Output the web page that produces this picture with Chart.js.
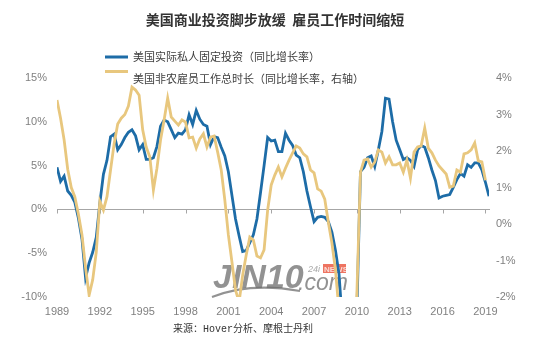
<!DOCTYPE html>
<html>
<head>
<meta charset="utf-8">
<script src="https://cdn.jsdelivr.net/npm/chart.js@4.4.1/dist/chart.umd.min.js"></script>
<style>
  html, body { margin: 0; padding: 0; background: #ffffff; }
  #wrap { width: 550px; height: 337px; position: relative; }
</style>
</head>
<body>
<div id="wrap"><canvas id="chart"></canvas></div>
<script>
// Quarterly series, first quarter = 1989 Q1
const startYear = 1989;

// US real private fixed investment, YoY % (left axis)
const investValues = [
  4.8, 3.2, 3.8, 2.1, 1.6, 0.8, -1.0, -3.4, -7.8, -6.1,
  -4.9, -3.2, 0.7, 4.0, 5.6, 8.3, 8.6, 6.8, 7.4, 8.2,
  8.8, 9.1, 8.4, 6.8, 7.4, 5.7, 5.7, 5.9, 7.2, 9.5,
  10.2, 10.0, 9.1, 8.2, 8.7, 8.6, 9.1, 10.8, 9.7, 11.3,
  10.3, 9.7, 9.5, 7.4, 8.3, 8.2, 7.1, 6.1, 4.3, 1.6,
  -1.1, -3.0, -4.8, -4.7, -3.8, -2.9, -1.1, 1.9, 5.0, 8.2,
  7.8, 7.9, 6.6, 6.6, 8.7, 7.9, 7.3, 6.2, 5.9, 4.3,
  2.1, 0.3, -1.4, -0.9, -0.8, -0.9, -1.4, -2.6, -4.7, -7.4,
  -13.4, -19.0, -21.0, -18.0, -11.5, 4.3, 4.8, 5.9, 6.1, 4.9,
  6.8, 8.9, 12.7, 12.6, 10.0, 7.9, 6.8, 5.7, 5.9, 5.6,
  4.9, 6.8, 7.3, 7.1, 5.9, 4.5, 3.3, 1.3, 1.5, 1.6,
  1.7, 2.5, 3.4, 4.1, 3.8, 5.1, 4.8, 5.3, 5.3, 4.5,
  3.1, 1.5
];

// US nonfarm aggregate weekly hours, YoY % (right axis)
const hoursValues = [
  3.4, 2.9, 2.3, 1.5, 1.0, 0.74, 0.27, -0.3, -1.2, -1.95,
  -1.53, -0.77, 0.62, 0.38, 0.75, 1.48, 2.2, 2.74, 2.9, 3.0,
  3.23, 3.75, 3.67, 3.53, 2.58, 2.1, 1.84, 0.93, 1.53, 2.3,
  2.85, 3.45, 2.93, 2.82, 2.71, 2.85, 2.79, 2.36, 2.38, 2.08,
  2.33, 2.47, 2.11, 2.38, 2.41, 1.97, 1.48, 0.66, -0.3, -1.04,
  -1.81, -2.14, -1.4, -0.85, -0.36, -0.44, -0.88, -0.93, -0.71, 0.38,
  1.07, 1.34, 1.56, 1.29, 1.53, 1.75, 1.95, 2.14, 2.08, 1.92,
  1.84, 1.48, 1.4, 0.96, 0.9, 0.68, 0.05, -0.52, -1.26, -2.4,
  -4.0, -5.5, -6.5, -4.5, -1.9, 1.42, 1.75, 1.78, 1.56, 1.7,
  2.03, 1.97, 1.67, 1.84, 1.62, 1.62, 1.67, 1.42, 1.75, 1.26,
  1.97, 2.11, 2.14, 2.63, 2.08, 1.95, 1.75, 1.59, 1.48, 1.37,
  1.01, 1.04, 1.48, 1.42, 1.92, 1.95, 2.03, 2.22, 1.73, 1.7,
  1.2
];

// Axis labels
const yearTicks = [1989, 1992, 1995, 1998, 2001, 2004, 2007, 2010, 2013, 2016, 2019];
const leftTicks = [-10, -5, 0, 5, 10, 15];
const rightTicks = [-2, -1, 0, 1, 2, 3, 4];

const titleText = '美国商业投资脚步放缓  雇员工作时间缩短';
const seriesNames = ['美国实际私人固定投资（同比增长率）', '美国非农雇员工作总时长（同比增长率，右轴）'];
const sourceText = '来源：Hover分析、摩根士丹利';

const BLUE = '#1d6ca7';
const GOLD = '#e8c77e';

// quarter position on the time axis (decimal year)
const quarterPos = i => startYear + i / 4;
const toPoints = vals => vals.map((v, i) => ({ x: quarterPos(i), y: v }));
const lastQuarter = quarterPos(investValues.length - 1);

const decorPlugin = {
  id: 'decor',
  beforeDatasetsDraw(chart) {
    const { ctx, chartArea, scales } = chart;
    // zero line with tick marks
    const y0 = Math.round(scales.y.getPixelForValue(0)) + 0.5;
    ctx.save();
    ctx.strokeStyle = '#a6a6a6';
    ctx.lineWidth = 1;
    ctx.beginPath();
    ctx.moveTo(chartArea.left, y0);
    ctx.lineTo(chartArea.right + 1, y0);
    yearTicks.forEach(yr => {
      const x = Math.round(scales.x.getPixelForValue(yr)) + 0.5;
      ctx.moveTo(x, y0);
      ctx.lineTo(x, y0 + 4);
    });
    ctx.stroke();

    // site watermark
    ctx.globalAlpha = 0.75;
    ctx.fillStyle = '#6e6e6e';
    ctx.font = 'italic bold 34px "Liberation Sans", Arial, sans-serif';
    ctx.textBaseline = 'alphabetic';
    ctx.textAlign = 'left';
    ctx.fillText('JIN10', 213, 288);
    ctx.font = 'italic 23px "Liberation Sans", Arial, sans-serif';
    ctx.fillText('.com', 298, 290);
    ctx.strokeStyle = '#6e6e6e';
    ctx.lineWidth = 2;
    ctx.beginPath();
    ctx.moveTo(212, 297);
    ctx.quadraticCurveTo(250, 282, 300, 291);
    ctx.stroke();
    ctx.font = 'italic 9px "Liberation Sans", Arial, sans-serif';
    ctx.fillStyle = '#8a8a8a';
    ctx.fillText('24i', 308, 272);
    ctx.fillStyle = '#e8452c';
    ctx.fillRect(323, 264, 23, 9);
    ctx.fillStyle = '#ffffff';
    ctx.font = 'bold 8px "Liberation Sans", Arial, sans-serif';
    ctx.fillText('NEWS', 324, 272);
    ctx.restore();
  },
  afterDraw(chart) {
    const { ctx } = chart;
    ctx.save();
    // title
    ctx.fillStyle = '#333333';
    ctx.font = 'bold 14px "Noto Sans CJK SC", sans-serif';
    ctx.textAlign = 'center';
    ctx.textBaseline = 'middle';
    ctx.fillText(titleText, 275, 20);

    // legend
    ctx.textAlign = 'left';
    ctx.font = '11px "Noto Sans CJK SC", sans-serif';
    ctx.fillStyle = BLUE;
    ctx.fillRect(105, 55.5, 23, 3);
    ctx.fillStyle = '#404040';
    ctx.fillText(seriesNames[0], 133, 57);
    ctx.fillStyle = GOLD;
    ctx.fillRect(105, 70, 23, 3);
    ctx.fillStyle = '#404040';
    ctx.fillText(seriesNames[1], 133, 79);

    // source note
    ctx.textAlign = 'center';
    ctx.fillStyle = '#333333';
    ctx.font = '10px "Liberation Mono", "Noto Sans CJK SC", monospace';
    ctx.fillText(sourceText, 243, 329);
    ctx.restore();
  }
};

const tickFont = { family: '"Liberation Sans", Arial, sans-serif', size: 11 };
const tickColor = '#808080';

new Chart(document.getElementById('chart'), {
  type: 'line',
  data: {
    datasets: [
      {
        label: seriesNames[0],
        data: toPoints(investValues),
        yAxisID: 'y',
        borderColor: BLUE,
        borderWidth: 2.8,
        pointRadius: 0,
        tension: 0,
        order: 1
      },
      {
        label: seriesNames[1],
        data: toPoints(hoursValues),
        yAxisID: 'y2',
        borderColor: GOLD,
        borderWidth: 2.8,
        pointRadius: 0,
        tension: 0,
        order: 0
      }
    ]
  },
  options: {
    responsive: true,
    maintainAspectRatio: false,
    animation: false,
    devicePixelRatio: 1,
    layout: { padding: { top: 78, bottom: 0, left: 0, right: 0 } },
    plugins: {
      legend: { display: false },
      tooltip: { enabled: false },
      title: { display: false }
    },
    scales: {
      x: {
        type: 'linear',
        min: startYear,
        max: lastQuarter,
        grid: { display: false, drawTicks: false },
        border: { display: false },
        afterBuildTicks: s => { s.ticks = yearTicks.map(v => ({ value: v })); },
        ticks: {
          padding: 8,
          color: tickColor,
          font: tickFont,
          maxRotation: 0,
          autoSkip: false,
          callback: v => String(v)
        },
        afterFit: s => { s.height = 40; }
      },
      y: {
        position: 'left',
        min: -10,
        max: 15,
        grid: { display: false, drawTicks: false },
        border: { display: false },
        afterBuildTicks: s => { s.ticks = leftTicks.map(v => ({ value: v })); },
        ticks: { padding: 10, color: tickColor, font: tickFont, callback: v => v + '%' },
        afterFit: s => { s.width = 57; }
      },
      y2: {
        position: 'right',
        min: -2,
        max: 4,
        grid: { display: false, drawTicks: false },
        border: { display: false },
        afterBuildTicks: s => { s.ticks = rightTicks.map(v => ({ value: v })); },
        ticks: { padding: 7, color: tickColor, font: tickFont, callback: v => v + '%' },
        afterFit: s => { s.width = 61; }
      }
    }
  },
  plugins: [decorPlugin]
});
</script>
</body>
</html>
